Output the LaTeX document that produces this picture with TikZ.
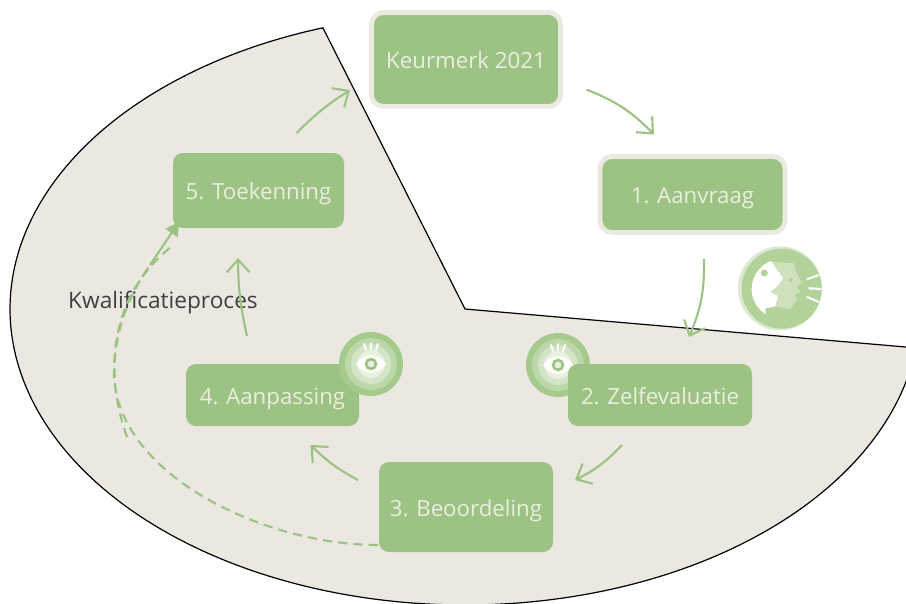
\documentclass[tikz,border=0pt]{standalone}
\usepackage{fontspec}
\setmainfont{Open Sans}
\usetikzlibrary{arrows.meta,calc}
\definecolor{pie}{HTML}{EBE8E1}
\definecolor{grn}{HTML}{9DC384}
\definecolor{frame}{HTML}{ECE9E2}
\definecolor{txt}{HTML}{EAEEDF}
\definecolor{ring1}{HTML}{A5CA8C}
\definecolor{ring2}{HTML}{BCD8A9}
\definecolor{ring3}{HTML}{D3E5C6}
\definecolor{ring4}{HTML}{E8F0E0}
\definecolor{spk1}{HTML}{DCE9D1}
\definecolor{spk2}{HTML}{B2D29A}
\definecolor{spk3}{HTML}{CFE0BC}
\tikzset{
  x=0.75pt,y=-0.75pt,
  box/.style 2 args={rectangle,rounded corners=7.5pt,fill=grn,text=txt,inner sep=0pt,outer sep=0pt,
    text height=14pt,text depth=0pt,
    minimum width=#1*0.75pt,minimum height=#2*0.75pt,font=\fontsize{16.7}{20}\selectfont},
  framed/.style={draw=frame,line width=3.6pt,rounded corners=9pt},
  flow/.style={draw=grn,line width=1.6pt,-{Straight Barb[length=9.5pt,width=17pt,line width=1.6pt]}},
  dashline/.style={draw=grn,line width=1.6pt,dash pattern=on 7pt off 4.5pt},
  lash/.style={draw=white,line width=1.5pt,line cap=round},
  plain/.style={inner sep=0pt,outer sep=0pt}
}
\newcommand{\eyeicon}[2]{%
  \begin{scope}[shift={(#1,#2)}]
    \fill[ring1] (0,0) circle (24pt);
    \fill[ring2] (0,0) circle (19.5pt);
    \fill[ring3] (0,0) circle (15pt);
    \fill[ring4] (0,0) circle (10.5pt);
    \fill[white] (-15,0) .. controls (-7,-12) and (7,-12) .. (15,0) .. controls (7,12) and (-7,12) .. (-15,0) -- cycle;
    \draw[grn,line width=2pt,fill=ring4] (0,0) circle (3.7pt);
    \draw[lash] (-7,-20) -- (-5,-14);
    \draw[lash] (0,-21) -- (0,-15);
    \draw[lash] (7,-20) -- (5,-14);
  \end{scope}}
\begin{document}
\begin{tikzpicture}
\useasboundingbox (0,0) rectangle (906,603);
\clip (0,0) rectangle (906,603);
\path[fill=pie,draw=black,line width=0.9pt,line join=miter]
  (465,309) -- (323,28)
  -- plot[domain=108.2:352.45,samples=160,smooth] ({465+455*cos(\x)},{309-296*sin(\x)}) -- cycle;

\eyeicon{558}{365}

\node[box={189}{94},framed] (k) at (466,59.5) {Keurmerk 2021};
\node[box={185}{76},framed] (a1) at (692.5,194.5) {1. Aanvraag};
\node[box={184}{62}] (a2) at (660,395) {2. Zelfevaluatie};
\node[box={174}{90}] (a3) at (466,507) {3. Beoordeling};
\node[box={173}{62}] (a4) at (272.5,395) {4. Aanpassing};
\node[box={171}{75}] (a5) at (258.5,190.5) {5. Toekenning};

\eyeicon{371}{364}

% speaker icon
\begin{scope}[shift={(700,230)},x=0.25pt,y=-0.25pt]
  \fill[spk1] (240,175) circle (31.5pt);
  \fill[spk2] (245,176) circle (30pt);
  \begin{scope}
    \clip (245,177) circle (22.5pt);
    \fill[spk2] (245,177) circle (22.5pt);
    \fill[white] (140,60) -- (215,95) -- (250,145) -- (232,170) -- (212,185) -- (235,198) -- (225,235) -- (197,235) -- (197,290) -- (140,290) -- cycle;
    \fill[spk3] (215,95) -- (250,145) -- (232,170) -- (212,185) -- (235,198) -- (225,232) -- (268,240) -- (292,208) -- (285,195) -- (302,185) -- (290,170) -- (305,160) -- (288,125) -- (282,100) -- cycle;
    \fill[spk2] (197,235) -- (225,230) -- (268,238) -- (280,280) -- (200,280) -- cycle;
  \end{scope}
  \fill[spk2] (193,129) circle (2.6pt);
  \fill[spk2] (272,150) circle (1.5pt);
  \draw[white,line width=1.6pt] (320,148) -- (356,135);
  \draw[white,line width=1.6pt] (325,175) -- (364,177);
  \draw[white,line width=1.6pt] (320,200) -- (356,216);
\end{scope}

\node[plain,text=black!75,text height=14pt,text depth=0pt,font=\fontsize{17}{20}\selectfont] (q) at (163,299.5) {Kwalificatieproces};

% flow arrows
\draw[flow] ([shift={(26,-17)}]k.south east) to[bend left=12] ([shift={(-38.5,-22)}]a1.north);
\draw[flow] ([shift={(11.5,26.5)}]a1.south) to[bend left=12] ([shift={(29,-27)}]a2.north);
\draw[flow] ([shift={(-38,19)}]a2.south) to[bend left=10] ([shift={(22,18)}]a3.north east);
\draw[flow] ([shift={(-21,18)}]a3.north west) to[bend left=8] ([shift={(38,19)}]a4.south);
\draw[flow] ([shift={(-25.5,-28)}]a4.north) to[bend left=6] ([shift={(-20.5,30)}]a5.south);
\draw[flow] ([shift={(38,-20)}]a5.north) to[bend left=6] ([shift={(-21.5,-16.5)}]k.south west);

% qualification dashed curves
\coordinate (c1) at ([shift={(-1,-7)}]a3.south west);
\coordinate (c2) at ([shift={(-1,18)}]a5.south west);
\draw[dashline] (c1) .. controls (260,545) and (108,470) .. (114,365) .. controls (116,320) and (130,280) .. (c2);
\draw[dashline] (127,437) .. controls (105,375) and (112,320) .. (150,265);
\draw[draw=grn,line width=1.6pt,-{Triangle[length=10pt,width=11pt]}] (150,265) -- ([shift={(6,-6)}]a5.south west);
\end{tikzpicture}
\end{document}
